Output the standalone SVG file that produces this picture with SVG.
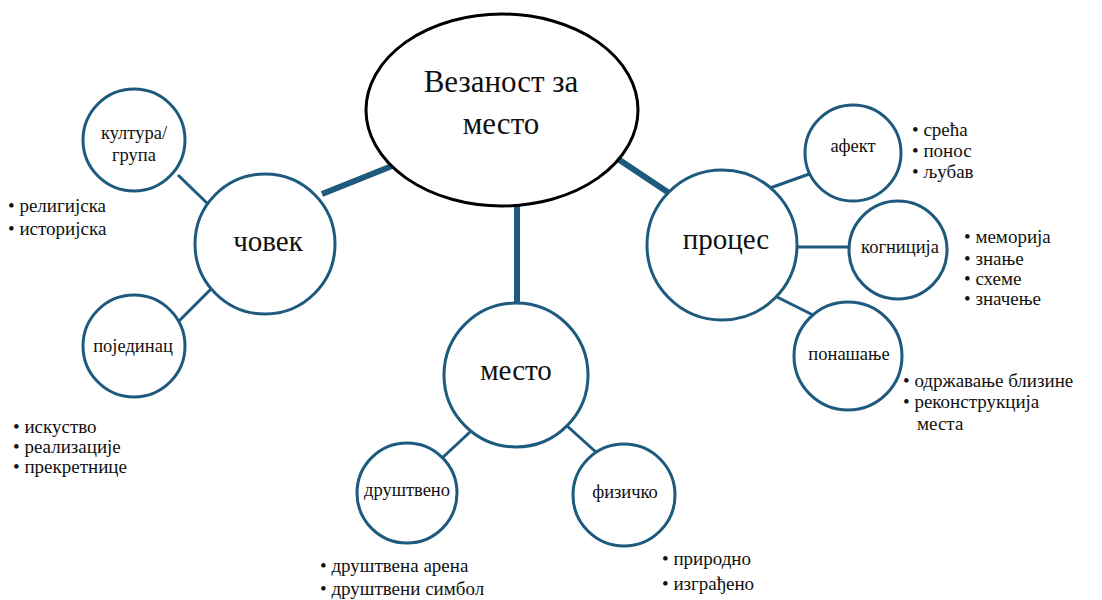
<svg xmlns="http://www.w3.org/2000/svg" width="1102" height="600" viewBox="0 0 1102 600">
<style>
.n{fill:#fff;stroke:#1d5a7e;stroke-width:3}
.c{stroke:#1d5a7e;stroke-width:3;fill:none}
.t{stroke:#1d5a7e;stroke-width:6;fill:none}
</style>
<rect width="1102" height="600" fill="#fff"/>
<g id="connectors">
<line class="t" x1="322" y1="194" x2="392" y2="166"/>
<line class="t" x1="517" y1="204" x2="517" y2="303"/>
<line class="t" x1="618" y1="159" x2="669" y2="193"/>
<line class="c" x1="178" y1="175" x2="210" y2="206"/>
<line class="c" x1="178" y1="322" x2="211" y2="289"/>
<line class="c" x1="770" y1="188" x2="812" y2="173"/>
<line class="c" x1="796" y1="247" x2="850" y2="247"/>
<line class="c" x1="775" y1="296" x2="813" y2="315"/>
<line class="c" x1="470" y1="432" x2="440" y2="460"/>
<line class="c" x1="566" y1="425" x2="597" y2="453"/>
</g>
<g id="root">
<ellipse cx="502" cy="110" rx="136" ry="96" fill="#fff" stroke="#000" stroke-width="3"/>
<text x="501" y="92" style="font-family:'Liberation Serif',serif !important;font-size:31px;text-anchor:middle;fill:#111">Везаност за</text>
<text x="501" y="134" style="font-family:'Liberation Serif',serif !important;font-size:31px;text-anchor:middle;fill:#111">место</text>
</g>
<g id="covek">
<circle class="n" cx="265" cy="244" r="70"/>
<text x="268" y="251" style="font-family:'Liberation Serif',serif !important;font-size:29px;text-anchor:middle;fill:#111">човек</text>
</g>
<g id="kultura">
<circle class="n" cx="134" cy="140" r="51"/>
<text x="134" y="139" style="font-family:'Liberation Serif',serif !important;font-size:18.5px;text-anchor:middle;fill:#111">култура/</text>
<text x="134" y="161" style="font-family:'Liberation Serif',serif !important;font-size:18.5px;text-anchor:middle;fill:#111">група</text>
<text x="8" y="212" style="font-family:'Liberation Serif',serif !important;font-size:19px;fill:#111">• религијска</text>
<text x="8" y="235" style="font-family:'Liberation Serif',serif !important;font-size:19px;fill:#111">• историјска</text>
</g>
<g id="pojedinac">
<circle class="n" cx="134" cy="346" r="51"/>
<text x="133" y="352" style="font-family:'Liberation Serif',serif !important;font-size:18.5px;text-anchor:middle;fill:#111">појединац</text>
<text x="13" y="433" style="font-family:'Liberation Serif',serif !important;font-size:19px;fill:#111">•  искуство</text>
<text x="13" y="453" style="font-family:'Liberation Serif',serif !important;font-size:19px;fill:#111">• реализације</text>
<text x="13" y="473" style="font-family:'Liberation Serif',serif !important;font-size:19px;fill:#111">• прекретнице</text>
</g>
<g id="proces">
<circle class="n" cx="722" cy="245" r="75"/>
<text x="726" y="249" style="font-family:'Liberation Serif',serif !important;font-size:29px;text-anchor:middle;fill:#111">процес</text>
</g>
<g id="afekt">
<circle class="n" cx="853" cy="153" r="48"/>
<text x="853" y="152" style="font-family:'Liberation Serif',serif !important;font-size:18.5px;text-anchor:middle;fill:#111">афект</text>
<text x="912" y="136" style="font-family:'Liberation Serif',serif !important;font-size:19px;fill:#111">•  срећа</text>
<text x="912" y="157" style="font-family:'Liberation Serif',serif !important;font-size:19px;fill:#111">•  понос</text>
<text x="912" y="178" style="font-family:'Liberation Serif',serif !important;font-size:19px;fill:#111">•  љубав</text>
</g>
<g id="kognicija">
<circle class="n" cx="898" cy="250" r="49"/>
<text x="900" y="253" style="font-family:'Liberation Serif',serif !important;font-size:18.5px;text-anchor:middle;fill:#111">когниција</text>
<text x="964" y="243" style="font-family:'Liberation Serif',serif !important;font-size:19px;fill:#111">•  меморија</text>
<text x="964" y="265" style="font-family:'Liberation Serif',serif !important;font-size:19px;fill:#111">•  знање</text>
<text x="964" y="285" style="font-family:'Liberation Serif',serif !important;font-size:19px;fill:#111">•  схеме</text>
<text x="964" y="305" style="font-family:'Liberation Serif',serif !important;font-size:19px;fill:#111">•  значење</text>
</g>
<g id="ponasanje">
<circle class="n" cx="848" cy="356" r="54"/>
<text x="849" y="360" style="font-family:'Liberation Serif',serif !important;font-size:18.5px;text-anchor:middle;fill:#111">понашање</text>
<text x="903" y="387" style="font-family:'Liberation Serif',serif !important;font-size:19px;fill:#111">• одржавање близине</text>
<text x="903" y="408" style="font-family:'Liberation Serif',serif !important;font-size:19px;fill:#111">• реконструкција</text>
<text x="917" y="430" style="font-family:'Liberation Serif',serif !important;font-size:19px;fill:#111">места</text>
</g>
<g id="mesto">
<circle class="n" cx="516" cy="375" r="72"/>
<text x="516" y="380" style="font-family:'Liberation Serif',serif !important;font-size:29px;text-anchor:middle;fill:#111">место</text>
</g>
<g id="drustveno">
<circle class="n" cx="407" cy="493" r="50"/>
<text x="407" y="496" style="font-family:'Liberation Serif',serif !important;font-size:18.5px;text-anchor:middle;fill:#111">друштвено</text>
<text x="320" y="572" style="font-family:'Liberation Serif',serif !important;font-size:19px;fill:#111">•  друштвена арена</text>
<text x="320" y="595" style="font-family:'Liberation Serif',serif !important;font-size:19px;fill:#111">•  друштвени симбол</text>
</g>
<g id="fizicko">
<circle class="n" cx="624" cy="495" r="51"/>
<text x="625" y="498" style="font-family:'Liberation Serif',serif !important;font-size:18.5px;text-anchor:middle;fill:#111">физичко</text>
<text x="662" y="565" style="font-family:'Liberation Serif',serif !important;font-size:19px;fill:#111">•  природно</text>
<text x="662" y="590" style="font-family:'Liberation Serif',serif !important;font-size:19px;fill:#111">•  изграђено</text>
</g>
</svg>
